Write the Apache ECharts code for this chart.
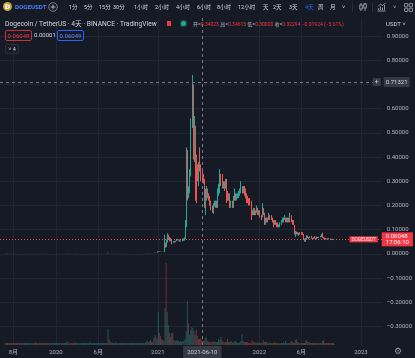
<!DOCTYPE html>
<html><head><meta charset="utf-8">
<script src="https://cdn.jsdelivr.net/npm/echarts@6/dist/echarts.min.js"></script>
<style>
html,body{margin:0;padding:0;background:#161a25;overflow:hidden}
#wrap{position:relative;width:415px;height:358px;font-family:Roboto,"Noto Sans CJK SC",sans-serif;}
#chart{position:absolute;left:0;top:0;width:415px;height:358px}
.t{position:absolute;white-space:nowrap;color:#b2b5be;font-size:6.5px;line-height:8px}
</style></head>
<body><div id="wrap"><div id="chart"></div><div id="hdr"></div></div>
<script>
// ---------------- DATA ----------------
const START_DATE = '2019-07-03';
const PERIOD_DAYS = 4;
// [open, close, low, high] per 4-day candle
const ohlc = [
[.0034,.0032,.0029,.0036],[.0032,.0033,.0031,.0035],[.0033,.0030,.0028,.0034],[.0030,.0031,.0027,.0032],[.0031,.0030,.0029,.0032],
[.0030,.0030,.0029,.0031],[.0030,.0029,.0028,.0031],[.0029,.0031,.0029,.0032],[.0031,.0030,.0029,.0032],[.0030,.0028,.0027,.0031],
[.0028,.0027,.0026,.0028],[.0027,.0027,.0025,.0028],[.0027,.0026,.0026,.0028],[.0026,.0026,.0025,.0027],[.0026,.0025,.0024,.0026],
[.0025,.0025,.0024,.0026],[.0025,.0025,.0024,.0026],[.0025,.0024,.0024,.0025],[.0024,.0024,.0023,.0025],[.0024,.0025,.0024,.0026],
[.0025,.0022,.0021,.0025],[.0022,.0024,.0021,.0024],[.0024,.0025,.0023,.0026],[.0025,.0026,.0024,.0027],[.0026,.0027,.0025,.0027],
[.0027,.0026,.0026,.0028],[.0026,.0027,.0026,.0027],[.0027,.0026,.0025,.0027],[.0026,.0029,.0024,.0030],[.0029,.0027,.0026,.0029],
[.0027,.0027,.0026,.0028],[.0027,.0028,.0027,.0029],[.0028,.0027,.0026,.0028],[.0027,.0026,.0025,.0027],[.0026,.0025,.0024,.0026],
[.0025,.0023,.0022,.0025],[.0023,.0023,.0021,.0024],[.0023,.0023,.0022,.0024],[.0023,.0022,.0022,.0023],[.0022,.0022,.0021,.0023],
[.0022,.0021,.0021,.0022],[.0021,.0020,.0019,.0021],[.0020,.0020,.0019,.0021],[.0020,.0020,.0020,.0021],[.0020,.0020,.0020,.0021],
[.0020,.0021,.0020,.0021],[.0021,.0022,.0020,.0023],[.0022,.0023,.0022,.0024],[.0023,.0025,.0023,.0026],[.0025,.0024,.0024,.0026],
[.0024,.0023,.0023,.0025],[.0023,.0023,.0022,.0024],[.0023,.0024,.0023,.0025],[.0024,.0025,.0024,.0026],[.0025,.0026,.0024,.0027],
[.0026,.0028,.0026,.0029],[.0028,.0030,.0027,.0032],[.0030,.0026,.0025,.0031],[.0026,.0024,.0023,.0027],[.0024,.0022,.0021,.0025],
[.0022,.0021,.0020,.0022],[.0021,.0021,.0020,.0022],[.0021,.0019,.0018,.0021],[.0019,.0014,.0012,.0019],[.0014,.0014,.0013,.0016],
[.0014,.0017,.0013,.0017],[.0017,.0017,.0016,.0018],[.0017,.0018,.0016,.0019],[.0018,.0018,.0017,.0019],[.0018,.0019,.0017,.0020],
[.0019,.0019,.0018,.0020],[.0019,.0019,.0018,.0020],[.0019,.0020,.0018,.0020],[.0020,.0020,.0019,.0021],[.0020,.0021,.0020,.0022],
[.0021,.0022,.0020,.0023],[.0022,.0025,.0021,.0026],[.0025,.0025,.0024,.0026],[.0025,.0024,.0022,.0026],[.0024,.0025,.0023,.0026],
[.0025,.0025,.0024,.0026],[.0025,.0025,.0024,.0026],[.0025,.0026,.0025,.0027],[.0026,.0026,.0025,.0027],[.0026,.0026,.0025,.0027],
[.0026,.0025,.0025,.0027],[.0025,.0025,.0024,.0026],[.0025,.0025,.0024,.0026],[.0025,.0025,.0024,.0025],[.0025,.0024,.0024,.0025],
[.0024,.0024,.0023,.0025],[.0024,.0025,.0024,.0026],[.0025,.0036,.0024,.0050],[.0036,.0034,.0031,.0039],[.0034,.0033,.0032,.0035],
[.0033,.0033,.0032,.0034],[.0033,.0034,.0032,.0035],[.0034,.0034,.0032,.0036],[.0034,.0035,.0033,.0036],[.0035,.0033,.0030,.0036],
[.0033,.0033,.0032,.0035],[.0033,.0034,.0033,.0036],[.0034,.0034,.0033,.0036],[.0034,.0032,.0031,.0035],[.0032,.0032,.0031,.0033],
[.0032,.0032,.0031,.0033],[.0032,.0030,.0029,.0033],[.0030,.0027,.0026,.0031],[.0027,.0027,.0026,.0028],[.0027,.0027,.0027,.0028],
[.0027,.0027,.0026,.0028],[.0027,.0027,.0026,.0028],[.0027,.0026,.0025,.0027],[.0026,.0026,.0026,.0027],[.0026,.0026,.0025,.0027],
[.0026,.0026,.0025,.0026],[.0026,.0026,.0025,.0027],[.0026,.0026,.0025,.0026],[.0026,.0026,.0025,.0026],[.0026,.0026,.0025,.0027],
[.0026,.0026,.0025,.0027],[.0026,.0025,.0024,.0026],[.0025,.0026,.0024,.0027],[.0026,.0027,.0025,.0028],[.0027,.0027,.0026,.0028],
[.0027,.0028,.0027,.0029],[.0028,.0032,.0027,.0034],[.0032,.0034,.0031,.0038],[.0034,.0031,.0028,.0034],[.0031,.0034,.0030,.0035],
[.0034,.0033,.0032,.0035],[.0033,.0032,.0031,.0034],[.0032,.0033,.0031,.0034],[.0033,.0036,.0032,.0037],[.0036,.0045,.0035,.0047],
[.0045,.0044,.0041,.0049],[.0044,.0047,.0043,.0050],
[.0047,.0099,.0046,.0105],[.0099,.0098,.0085,.0105],[.0098,.0089,.0080,.0106],[.0089,.0091,.0083,.0096],[.0091,.0083,.0080,.0096],
[.0083,.0086,.0075,.0090],[.0086,.0340,.0072,.0790],[.0340,.0310,.0250,.0470],[.0310,.0500,.0290,.0590],[.0500,.0720,.0470,.0850],
[.0720,.0660,.0620,.0790],[.0660,.0540,.0520,.0700],[.0540,.0600,.0510,.0660],[.0600,.0500,.0400,.0620],[.0500,.0500,.0460,.0530],
[.0500,.0490,.0460,.0520],[.0490,.0540,.0480,.0550],[.0540,.0580,.0520,.0620],[.0580,.0580,.0560,.0620],[.0580,.0570,.0550,.0600],
[.0570,.0530,.0500,.0590],[.0530,.0540,.0510,.0560],[.0540,.0570,.0520,.0630],[.0570,.0590,.0540,.0640],[.0590,.0640,.0550,.0680],
[.0640,.1200,.0610,.1400],[.1200,.3000,.1100,.4400],[.3000,.2400,.2200,.4300],[.2400,.2600,.2300,.2800],[.2600,.3300,.2500,.3500],
[.3300,.5400,.3200,.5600],[.5400,.6500,.5200,.7400],[.6500,.4100,.3900,.7000],[.4100,.5100,.3800,.5700],[.5100,.4000,.2200,.5300],
[.4000,.3500,.2100,.4100],[.3500,.3100,.3000,.3700],[.3100,.3700,.2800,.3800],[.3700,.3500,.3400,.4400],[.3500,.34218,.3000,.3700],
[.34023,.32294,.3000,.34615],[.3229,.3000,.2900,.3300],[.3000,.2000,.1900,.3100],[.2000,.2400,.1600,.2700],[.2400,.2600,.2200,.2800],
[.2600,.2400,.2300,.2700],[.2400,.2300,.2200,.2500],[.2300,.2100,.2000,.2400],[.2100,.1900,.1800,.2200],[.1900,.1800,.1700,.2000],
[.1800,.2000,.1650,.2100],[.2000,.2100,.1950,.2200],[.2100,.2100,.1900,.2200],[.2100,.2000,.1900,.2200],[.2000,.2600,.1900,.2700],
[.2600,.2600,.2400,.2900],[.2600,.3200,.2500,.3500],[.3200,.3000,.2800,.3300],[.3000,.2900,.2700,.3300],[.2900,.2900,.2700,.3000],
[.2900,.2800,.2600,.3000],[.2800,.3000,.2700,.3100],[.3000,.2500,.2100,.3100],[.2500,.2300,.2200,.2600],[.2300,.2400,.2200,.2500],
[.2400,.2000,.1900,.2500],[.2000,.2100,.1900,.2200],[.2100,.2000,.1900,.2200],[.2000,.2300,.1900,.2400],[.2300,.2500,.2200,.2700],
[.2500,.2300,.2200,.2500],[.2300,.2400,.2200,.2500],[.2400,.2400,.2300,.2500],[.2400,.2500,.2300,.2600],[.2500,.2600,.2400,.2700],
[.2600,.2800,.2500,.3000],[.2800,.2600,.2500,.2800],[.2600,.2700,.2500,.2800],[.2700,.2600,.2400,.2800],[.2600,.2400,.2300,.2700],
[.2400,.2350,.2100,.2500],[.2350,.2200,.2100,.2400],[.2200,.2150,.2000,.2300],[.2150,.2100,.2000,.2300],[.2100,.1700,.1400,.2200],
[.1700,.1680,.1600,.1800],[.1680,.1800,.1600,.1900],[.1800,.1700,.1600,.1900],[.1700,.1720,.1600,.1800],[.1720,.1900,.1700,.2000],
[.1900,.1700,.1600,.1900],[.1700,.1730,.1600,.1800],[.1730,.1600,.1500,.1800],[.1600,.1500,.1400,.1600],[.1500,.1900,.1500,.2100],
[.1900,.1600,.1600,.1900],[.1600,.1400,.1200,.1700],[.1400,.1420,.1200,.1500],[.1420,.1400,.1300,.1500],[.1400,.1430,.1300,.1500],
[.1430,.1600,.1400,.1700],[.1600,.1500,.1400,.1600],[.1500,.1480,.1400,.1600],[.1480,.1300,.1300,.1500],[.1300,.1200,.1100,.1400],
[.1200,.1300,.1200,.1400],[.1300,.1270,.1200,.1400],[.1270,.1200,.1100,.1300],[.1200,.1180,.1100,.1300],[.1180,.1200,.1100,.1220],
[.1200,.1230,.1100,.1300],[.1230,.1300,.1200,.1400],[.1300,.1400,.1300,.1500],[.1400,.1420,.1300,.1500],[.1420,.1500,.1400,.1600],
[.1500,.1400,.1300,.1500],[.1400,.1380,.1300,.1500],[.1380,.1400,.1300,.1500],[.1400,.1380,.1300,.1500],[.1380,.1500,.1300,.1700],
[.1500,.1400,.1300,.1600],[.1400,.1300,.1200,.1400],[.1300,.1200,.1200,.1400],[.1200,.0850,.0800,.1200],[.0850,.0900,.0700,.0950],
[.0900,.0850,.0800,.0920],[.0850,.0860,.0800,.0900],[.0860,.0800,.0750,.0870],[.0800,.0870,.0780,.0900],[.0870,.0810,.0790,.0900],
[.0810,.0800,.0770,.0900],[.0800,.0600,.0580,.0820],[.0600,.0570,.0500,.0630],[.0570,.0630,.0500,.0660],[.0630,.0710,.0580,.0780],
[.0710,.0660,.0650,.0750],[.0660,.0670,.0600,.0690],[.0670,.0680,.0650,.0720],[.0680,.0640,.0630,.0740],[.0640,.0630,.0580,.0660],
[.0630,.0680,.0610,.0690],[.0680,.0640,.0630,.0740],[.0640,.0630,.0610,.0670],[.0630,.0680,.0610,.0720],[.0680,.0670,.0650,.0700],
[.0670,.0690,.0650,.0700],[.0690,.0710,.0680,.0750],[.0710,.0780,.0690,.0820],[.0780,.0690,.0670,.0880],[.0690,.0640,.0610,.0700],
[.0640,.0630,.0610,.0670],[.0630,.0620,.0590,.0650],[.0620,.0630,.0600,.0640],[.0630,.0610,.0580,.0640],[.0610,.0630,.0600,.0650],
[.0630,.0600,.0580,.0640],[.0600,.0590,.0570,.0610],[.0590,.0610,.0570,.0620],[.0610,.06048,.0590,.0615]
];
// volume per candle (billion DOGE)
const volume = [
2,2,2,2,2,2,2,2,2,2, 2,2,2,2,2,2,2,2,2,2, 2,2,2,2,2,2,2,3,2,2, 2,2,2,2,2,2,2,2,2,2,
2,2,2,2,2,2,2,2,2,2, 2,2,2,2,2,3,3,2,2,2, 2,2,2,3,2,2,2,2,2,2, 2,2,2,2,2,2,3,2,2,2,
2,2,2,2,2,2,2,2,2,2, 2,2,16,6,3,2,2,2,2,3, 2,2,2,2,2,2,2,2,2,2, 2,2,2,2,2,2,2,2,2,2,
2,2,2,2,2,2,3,4,3,3, 5,3,3,7,10,8,6,
33,12,9,6,5,4,37,82,33,20, 12,8,12,12,5,4,4,5,4,3, 4,3,4,4,6,14,44,22,10,15,
18,17,14,10,15,9,6,6,7,5, 4,4,7,8,4,3,3,3,3,3, 4,3,3,3,6,5,8,5,3,3,
3,3,6,3,3,4,3,2,3,4, 3,2,2,3,4,11,4,3,3,3, 3,2,2,2,5,3,3,2,2,3,
2,2,2,2,5,3,3,3,2,2, 3,2,2,2,3,2,2,2,2,2, 2,2,3,2,4,2,2,2,2,4,
3,2,2,5,6,3,2,2,2,2, 2,2,4,5,3,3,2,2,2,2, 2,2,2,2,2,2,2,4,5,2,
2,2,2,2,2,2,2,2,1
];
const xTickDates = ['2019-08-01','2020-01-01','2020-06-01','2021-01-01','2022-01-01','2022-06-01','2023-01-01'];
const xTickLabels = ['8月','2020','6月','2021','2022','6月','2023'];
const yGridValues = [-0.3,-0.2,-0.1,0,0.1,0.2,0.3,0.4,0.5,0.6,0.7,0.8,0.9];
const yLabelValues = [-0.3,-0.2,-0.1,0,0.1,0.2,0.3,0.4,0.5,0.6,0.8,0.9];
const lastPrice = 0.06048;
const lastClock = '17:06:10';
const crossDate = '2021-06-10';
const crossPrice = 0.71321;
const symbolName = 'DOGEUSDT';
const xRange = ['2019-06-14','2023-03-17'];
const yRange = [-0.3768, 0.975];

// ---------------- CHART ----------------
const UP = '#26a69a', DOWN = '#ef5350';
const toTs = s => { const p = s.split('-').map(Number); return Date.UTC(p[0], p[1]-1, p[2]); };
const DAY = 86400000;
const t0 = toTs(START_DATE);
const n = Math.min(ohlc.length, volume.length);
const times = ohlc.map((_, i) => t0 + i * PERIOD_DAYS * DAY);
const candleData = ohlc.map((d, i) => [times[i], d[0], d[1], d[2], d[3]]);
const volData = [];
for (let i = 0; i < n; i++) {
  volData.push({ value: [times[i], volume[i]],
    itemStyle: { color: ohlc[i][1] >= ohlc[i][0] ? 'rgba(38,166,154,0.42)' : 'rgba(239,83,80,0.42)' } });
}
const xTickTs = xTickDates.map(toTs);
const fmtPrice = v => (v < 0 ? '\u2212' : '') + Math.abs(v).toFixed(5);

const chart = echarts.init(document.getElementById('chart'), null, { renderer: 'canvas' });
const gridLine = { show: true, lineStyle: { color: '#222633', width: 1 } };
chart.setOption({
  backgroundColor: '#161a25',
  animation: false,
  textStyle: { fontFamily: 'Roboto, "Noto Sans CJK SC", sans-serif' },
  grid: [
    { left: 0, right: 32, top: 18, bottom: 13 },
    { left: 0, right: 32, top: 263, bottom: 13 }
  ],
  xAxis: [
    { type: 'value', gridIndex: 0, min: toTs(xRange[0]), max: toTs(xRange[1]), scale: true,
      axisLine: { show: false }, axisTick: { show: false, customValues: xTickTs },
      splitLine: gridLine,
      axisLabel: { customValues: xTickTs, color: '#b2b5be', fontSize: 6, margin: 4,
        formatter: v => { const k = xTickTs.indexOf(v); return k >= 0 ? xTickLabels[k] : ''; } } },
    { type: 'value', gridIndex: 1, min: toTs(xRange[0]), max: toTs(xRange[1]), scale: true, show: false, splitLine: { show: false } }
  ],
  yAxis: [
    { type: 'value', gridIndex: 0, position: 'right', min: yRange[0], max: yRange[1],
      axisLine: { show: false }, axisTick: { show: false, customValues: yGridValues },
      splitLine: gridLine,
      axisLabel: { customValues: yLabelValues, color: '#b2b5be', fontSize: 6, margin: 5, formatter: fmtPrice } },
    { type: 'value', gridIndex: 1, min: 0, max: 'dataMax', show: false, splitLine: { show: false } }
  ],
  series: [
    { type: 'bar', xAxisIndex: 1, yAxisIndex: 1, data: volData, barWidth: 1, silent: true },
    { type: 'candlestick', xAxisIndex: 0, yAxisIndex: 0, data: candleData, barWidth: 1, silent: true,
      itemStyle: { color: UP, color0: DOWN, borderColor: UP, borderColor0: DOWN, borderWidth: 1 },
      markLine: {
        silent: true, symbol: ['none', 'none'], animation: false,
        data: [
          { yAxis: lastPrice, lineStyle: { color: DOWN, type: [1, 2], width: 1 },
            label: { position: 'end', distance: 0, formatter: fmtPrice(lastPrice) + '\n' + lastClock,
              backgroundColor: '#f23645', color: '#ffffff', fontSize: 6, lineHeight: 6.5, padding: [1, 4, 0, 4], align: 'left' } },
          { yAxis: lastPrice, lineStyle: { color: DOWN, type: [1, 2], width: 1 },
            label: { position: 'insideEnd', distance: 4, formatter: symbolName,
              backgroundColor: '#f23645', color: '#ffffff', fontSize: 4.8, lineHeight: 6, padding: [0, 2] } },
          { yAxis: crossPrice, lineStyle: { color: '#787b86', type: [3, 3], width: 1 },
            label: { position: 'end', distance: 2, formatter: fmtPrice(crossPrice),
              backgroundColor: '#363a45', color: '#d1d4dc', fontSize: 6, padding: [2, 2] } },
          { yAxis: crossPrice, lineStyle: { color: '#787b86', type: [3, 3], width: 1 },
            label: { position: 'insideEnd', distance: 1, formatter: '+',
              backgroundColor: '#363a45', color: '#d1d4dc', fontSize: 7, lineHeight: 8, padding: [0, 2], borderRadius: 1 } },
          { xAxis: toTs(crossDate), lineStyle: { color: '#787b86', type: [3, 3], width: 1 },
            label: { position: 'start', distance: 1, formatter: crossDate,
              backgroundColor: '#363a45', color: '#d1d4dc', fontSize: 6, padding: [3, 4] } }
        ]
      }
    }
  ]
});

// ---------------- HEADER (HTML overlay) ----------------
const hdr = document.getElementById('hdr');
function add(html, css) { const d = document.createElement('div'); d.className = 't'; d.innerHTML = html; Object.assign(d.style, css); hdr.appendChild(d); return d; }
add('<svg width="9" height="9"><circle cx="4.5" cy="4.5" r="4.5" fill="#c2a633"/><text x="4.5" y="7" font-size="6.5" font-weight="bold" text-anchor="middle" fill="#fff" font-family="DejaVu Sans">Ð</text></svg>', { left: '3px', top: '2px' });
add('DOGEUSDT', { left: '15px', top: '3px', color: '#4c7dff', fontWeight: 'bold', fontSize: '6.2px' });
add('<svg width="10" height="10"><circle cx="5" cy="5" r="4.3" fill="none" stroke="#9598a1" stroke-width="0.8"/><path d="M5 2.6V7.4M2.6 5H7.4" stroke="#d1d4dc" stroke-width="0.8"/></svg>', { left: '48px', top: '2px' });
const tfs = [['1分',69],['5分',84],['15分',99],['30分',113],['1小时',134],['2小时',155],['4小时',176],['6小时',197],['8小时',217],['12小时',238],['天',263],['2天',273],['3天',289],['4天',305],['周',318],['月',330],['˅',342]];
tfs.forEach(([s, x]) => add(s, { left: x + 'px', top: '3px', fontSize: '5.5px', color: s === '4天' ? '#2962ff' : '#d1d4dc' }));
add('', { left: '352px', top: '3px', width: '1px', height: '9px', background: '#2a2e39' });
add('<svg width="8" height="10"><path d="M2 1V9M6 1V9" stroke="#b2b5be" stroke-width="0.8"/><rect x="0.8" y="3" width="2.4" height="4" fill="#161a25" stroke="#b2b5be" stroke-width="0.8"/><rect x="4.8" y="2" width="2.4" height="4" fill="#161a25" stroke="#b2b5be" stroke-width="0.8"/></svg>', { left: '359px', top: '2px' });
add('', { left: '372px', top: '3px', width: '1px', height: '9px', background: '#2a2e39' });
add('<svg width="9" height="10"><path d="M0.5 9H8.5M1.5 8V6M3.5 8V4.5M5.5 8V5.5M7.5 8V3" stroke="#b2b5be" stroke-width="0.8"/><path d="M1 4.5L3.5 2L5.5 3.5L8.5 1" fill="none" stroke="#b2b5be" stroke-width="0.7"/></svg>', { left: '377px', top: '2px' });
add('˅', { left: '393px', top: '3px', fontSize: '6px' });
add('<svg width="9" height="9"><rect x="0.5" y="0.5" width="3.3" height="3.3" rx="0.6" fill="none" stroke="#b2b5be" stroke-width="0.8"/><rect x="5.2" y="0.5" width="3.3" height="3.3" rx="0.6" fill="none" stroke="#b2b5be" stroke-width="0.8"/><rect x="0.5" y="5.2" width="3.3" height="3.3" rx="0.6" fill="none" stroke="#b2b5be" stroke-width="0.8"/><rect x="5.2" y="5.2" width="3.3" height="3.3" rx="0.6" fill="none" stroke="#b2b5be" stroke-width="0.8"/></svg>', { left: '404px', top: '3px' });

add('Dogecoin / TetherUS · 4天 · BINANCE · TradingView', { left: '5px', top: '20px', color: '#d1d4dc', fontSize: '6.7px' });
add('', { left: '167px', top: '21px', width: '4px', height: '5px', background: '#f23645' });
add('', { left: '181px', top: '21px', width: '5px', height: '5px', background: '#22ab94', borderRadius: '50%', boxShadow: '0 0 0 1.5px #1f3b38' });
const R = s => '<span style="color:#f23645">' + s + '</span>';
add('开=' + R('0.34023') + ' 高=' + R('0.34615') + ' 低=' + R('0.30000') + ' 收=' + R('0.32294') + ' ' + R('\u22120.01924 (\u22125.61%)'), { left: '193px', top: '20px', fontSize: '5px', color: '#b2b5be' });
add('USDT ˅', { left: '386px', top: '20px', fontSize: '6px', color: '#d1d4dc' });

add('0.06048', { left: '5px', top: '30px', width: '25px', height: '9px', border: '1px solid #c2313c', color: '#f23645', borderRadius: '2px', fontSize: '6px', lineHeight: '9px', textAlign: 'center' });
add('0.00001', { left: '34px', top: '31px', fontSize: '6px', color: '#d1d4dc' });
add('0.06049', { left: '57px', top: '30px', width: '25px', height: '9px', border: '1px solid #2962ff', color: '#5b8cff', borderRadius: '2px', fontSize: '6px', lineHeight: '9px', textAlign: 'center' });
add('˅ 4', { left: '5px', top: '44px', width: '12px', height: '8px', border: '1px solid #2a2e39', color: '#d1d4dc', borderRadius: '2px', fontSize: '5.5px', lineHeight: '8px', textAlign: 'center' });
add('⚙', { left: '394px', top: '345px', fontSize: '9px', lineHeight: '12px', color: '#9598a1' });
</script></body></html>
